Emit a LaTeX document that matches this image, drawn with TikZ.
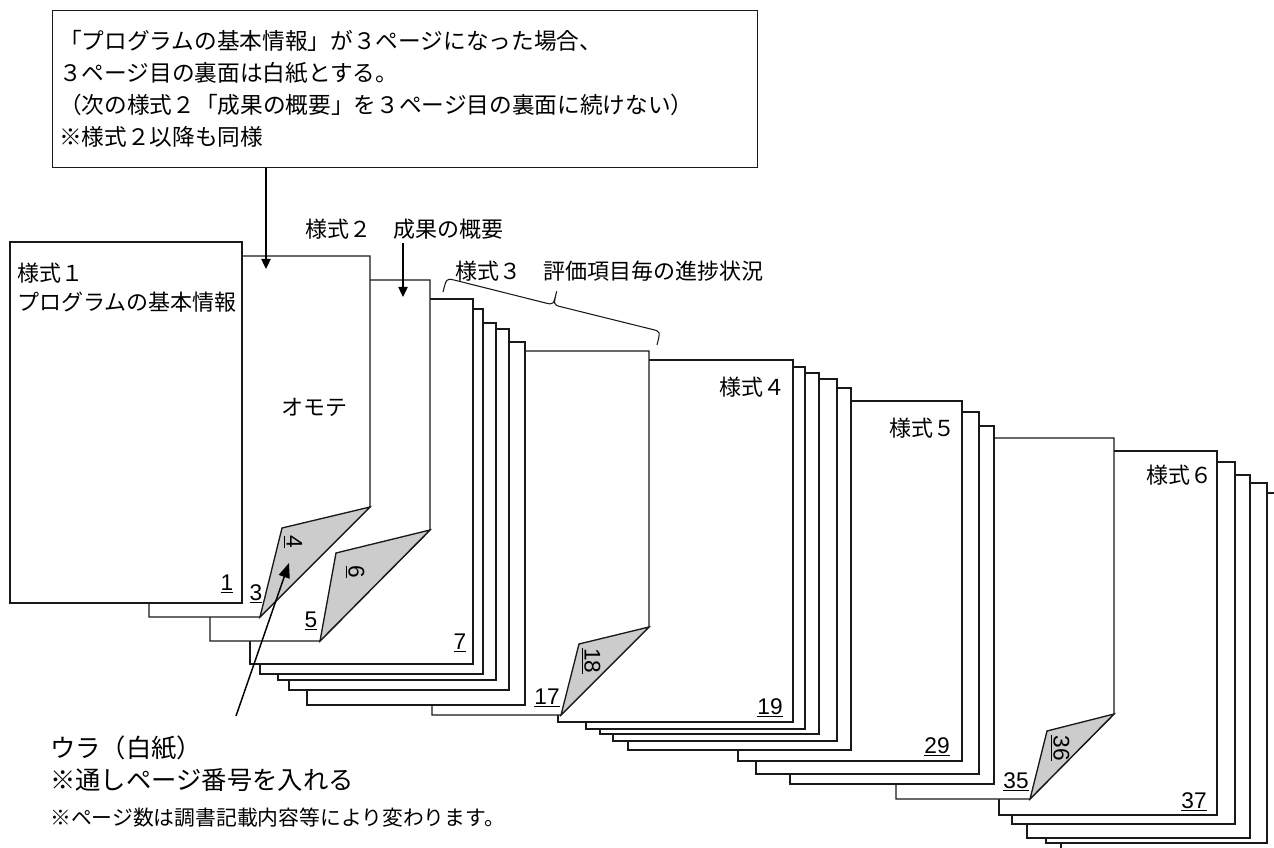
\documentclass[tikz,border=0pt]{standalone}
\usepackage{fontspec}
\newfontfamily\jp{Noto Sans CJK JP}
\newfontfamily\numf{Liberation Sans}
\usetikzlibrary{arrows.meta}
\tikzset{
  page/.style={draw=black!90, fill=white, line width=1pt, line join=miter},
  flap/.style={draw=black!90, fill=black!20, line width=1pt, line join=miter},
  jptxt/.style={font=\jp\fontsize{16.5pt}{24pt}\selectfont, inner sep=0pt},
  jpbox/.style={font=\jp\fontsize{17pt}{24pt}\selectfont, inner sep=0pt},
  jpbig/.style={font=\jp\fontsize{19pt}{24pt}\selectfont, inner sep=0pt},
  jpsmall/.style={font=\jp\fontsize{15.6pt}{20pt}\selectfont, inner sep=0pt},
  pnum/.style={font=\numf\fontsize{17pt}{19pt}\selectfont, inner sep=0pt},
  arr/.style={-{Triangle[length=7.5pt,width=7pt]}, line width=0.9pt},
  bigarr/.style={-{Triangle[length=11pt,width=8.5pt]}, line width=1.1pt},
}
\newcommand\sheet[4]{\path[page] (#1,#2) rectangle (#3,#4);}
% l t r b foldY bottomX flapX flapY
\newcommand\foldsheet[8]{%
  \path[page] (#1,#2) -- (#3,#2) -- (#3,#5) -- (#6,#4) -- (#1,#4) -- cycle;
  \path[flap] (#3,#5) -- (#7,#8) -- (#6,#4) -- cycle;}
\begin{document}
\begin{tikzpicture}[x=0.75pt,y=-0.75pt]
\useasboundingbox (0,0) rectangle (1274,848);
\begin{scope}
\clip (0,0) rectangle (1274,848);
% stack 6
\sheet{1061}{493}{1300}{870}
\sheet{1046}{483}{1267}{843}
\sheet{1027}{475}{1250}{838}
\sheet{1012}{462}{1235}{824}
\sheet{999}{451}{1217}{815}
\foldsheet{896}{438}{1114}{799}{714}{1030}{1047}{731}
% stack 5
\sheet{790}{426}{994}{784}
\sheet{756}{412}{979}{774}
\sheet{738}{401}{962}{761}
% stack 4
\sheet{628}{388}{851}{750}
\sheet{613}{379}{837}{741}
\sheet{600}{373}{819}{734}
\sheet{586}{367}{805}{729}
\sheet{558}{360}{793}{722}
% stack 3
\foldsheet{432}{351}{649}{715}{627}{561}{579}{644}
\sheet{307}{342}{525}{705}
\sheet{289}{329}{509}{690}
\sheet{278}{323}{496}{680}
\sheet{260}{309}{483}{674}
\sheet{250}{299}{473}{664}
% stack 2 and 1
\foldsheet{210}{280}{430}{641}{530}{320}{336}{553}
\foldsheet{149}{256}{370}{617}{507}{260}{282}{528}
\sheet{10}{242}{242}{603}
\end{scope}

% page labels
\node[jptxt, anchor=west] (s1) at (17,273) {様式１};
\node[jptxt, anchor=west] (s1b) at (17,302) {プログラムの基本情報};
\node[jptxt] (omote) at (314,407) {オモテ};
\node[jptxt, anchor=east] (s4) at (786,387) {様式４};
\node[jptxt, anchor=east] (s5) at (956,428) {様式５};
\node[jptxt, anchor=east] (s6) at (1213,475) {様式６};

% page numbers
\node[pnum, anchor=base] (n1) at (227,590) {\underline{1}};
\node[pnum, anchor=base] (n3) at (256,600) {\underline{3}};
\node[pnum, anchor=base] (n5) at (311,627) {\underline{5}};
\node[pnum, anchor=base] (n7) at (460,649) {\underline{7}};
\node[pnum, anchor=base] (n17) at (547,704) {\underline{17}};
\node[pnum, anchor=base] (n19) at (770,714) {\underline{19}};
\node[pnum, anchor=base] (n29) at (937,753) {\underline{29}};
\node[pnum, anchor=base] (n35) at (1016,788) {\underline{35}};
\node[pnum, anchor=base] (n37) at (1194,808) {\underline{37}};
\node[pnum, rotate=-90] (n4) at (293,542) {\underline{4}};
\node[pnum, rotate=-90] (n6) at (355,572) {\underline{6}};
\node[pnum, rotate=-90] (n18) at (591,661) {\underline{18}};
\node[pnum, rotate=-90] (n36) at (1060,748) {\underline{36}};

% top note box
\node[draw=black!90, line width=1pt, minimum width=528.75pt, minimum height=117.75pt,
      anchor=north west, inner sep=0pt] (box) at (52,10) {};
\node[jpbox, anchor=north west, align=left] (boxtext) at (59,30)
  {「プログラムの基本情報」が３ページになった場合、\\
   ３ページ目の裏面は白紙とする。\\
   （次の様式２「成果の概要」を３ページ目の裏面に続けない）\\
   ※様式２以降も同様};
\coordinate (p2top) at (266,269);
\draw[arr] (box.south -| p2top) -- (p2top);

% 様式2 label
\node[jptxt, anchor=west] (s2) at (305,229) {様式２　成果の概要};
\coordinate (p3top) at (403,297);
\draw[arr] (403,243) -- (p3top);

% 様式3 label and brace
\node[jptxt, anchor=west] (s3) at (455,271) {様式３　評価項目毎の進捗状況};
\draw[line width=0.8pt, black!90] (443,292) .. controls (446.4,278.4) .. (454,280)
  -- (545.6,303) .. controls (553.4,304.9) .. (556.7,291.3)
  .. controls (553.4,304.9) .. (561.1,306.8)
  -- (652.6,329.5) .. controls (660.4,331.4) .. (657,345);

% ura note
\node[jpbig, anchor=west] (ura) at (50,748) {ウラ（白紙）};
\node[jpbig, anchor=west] (ura2) at (50,780) {※通しページ番号を入れる};
\coordinate (urastart) at (236,716);
\coordinate (flaptip) at (289,563);
\draw[bigarr] (urastart) -- (flaptip);

% footnote
\node[jpsmall, anchor=west] (foot) at (50,818) {※ページ数は調書記載内容等により変わります。};
\end{tikzpicture}
\end{document}
